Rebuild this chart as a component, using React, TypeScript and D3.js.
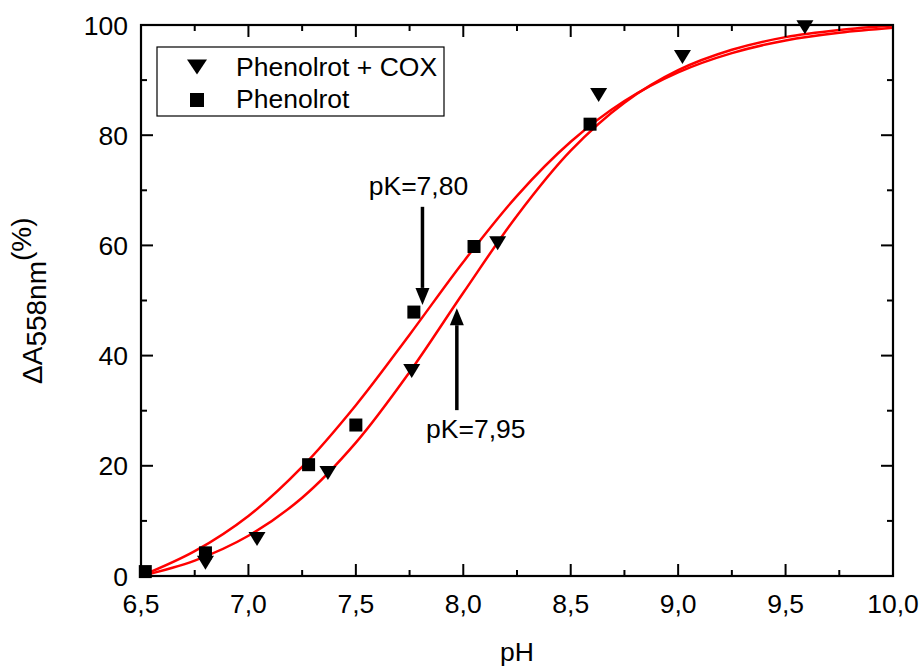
import React from "react";
import * as d3 from "d3";

// ---- data ----
const phenolrotPH = [6.52, 6.80, 7.28, 7.50, 7.77, 8.05, 8.59];
const phenolrotDA = [0.8, 4.2, 20.2, 27.4, 47.9, 59.8, 82.0];

const coxPH = [6.80, 7.04, 7.37, 7.76, 8.16, 8.63, 9.02, 9.59];
const coxDA = [2.4, 6.7, 18.7, 37.2, 60.4, 87.3, 94.2, 99.6];

// fitted sigmoid curves
const fitPH = [6.5, 6.75, 7.0, 7.25, 7.5, 7.75, 8.0, 8.25, 8.5, 8.75, 9.0, 9.25, 9.5, 9.75, 10.0];
const fitPhenolrot = [0.0, 4.5, 10.9, 19.8, 31.0, 43.8, 57.0, 69.0, 78.8, 86.2, 91.4, 94.9, 97.2, 98.6, 99.5];
const fitCox = [0.0, 2.8, 7.3, 14.2, 24.2, 37.0, 51.4, 65.4, 77.2, 85.9, 91.8, 95.5, 97.8, 99.1, 99.9];

const xTicks = [6.5, 7.0, 7.5, 8.0, 8.5, 9.0, 9.5, 10.0];
const xMinor = [6.75, 7.25, 7.75, 8.25, 8.75, 9.25, 9.75];
const yTicks = [0, 20, 40, 60, 80, 100];
const yMinor = [10, 30, 50, 70, 90];

const legendLabels = ["Phenolrot + COX", "Phenolrot"];

// annotations: [pH, arrow start value, arrow tip value, label]
const annoPH = [7.81, 7.97];
const annoFrom = [67, 30.1];
const annoTip = [49.2, 48.6];
const annoLabel = ["pK=7,80", "pK=7,95"];

const W = 923;
const H = 666;
const L = 141, R = 893, T = 25, B = 576;
const FONT = "'Liberation Sans', Arial, Helvetica, sans-serif";
const FS = 26.5;

const x = d3.scaleLinear().domain([6.5, 10]).range([L, R]);
const y = d3.scaleLinear().domain([0, 100]).range([B, T]);

const fmt = (v: number) => v.toFixed(1).replace(".", ",");

function triPath(cx: number, cy: number, w = 17, h = 14) {
  return `M${cx - w / 2},${cy - h / 2}L${cx + w / 2},${cy - h / 2}L${cx},${cy + h / 2}Z`;
}

export default function App() {
  const line = d3
    .line<number>()
    .x((_, i) => x(fitPH[i]))
    .y((d) => y(d))
    .curve(d3.curveCatmullRom.alpha(0.5));

  const sq = 13;
  const majorLen = 12;
  const minorLen = 6;

  return (
    <svg
      width={W}
      height={H}
      style={{ position: "absolute", left: 0, top: 0, background: "#fff" }}
      fontFamily={FONT}
    >
      <rect x={0} y={0} width={W} height={H} fill="#fff" />

      {/* fitted curves */}
      <path d={line(fitPhenolrot) || ""} fill="none" stroke="#ff0000" strokeWidth={2.5} />
      <path d={line(fitCox) || ""} fill="none" stroke="#ff0000" strokeWidth={2.5} />

      {/* ticks (inside) */}
      {xTicks.map((t) => (
        <g key={"xt" + t}>
          <line x1={x(t)} x2={x(t)} y1={B} y2={B - majorLen} stroke="#000" strokeWidth={2} />
          <line x1={x(t)} x2={x(t)} y1={T} y2={T + majorLen} stroke="#000" strokeWidth={2} />
        </g>
      ))}
      {xMinor.map((t) => (
        <g key={"xm" + t}>
          <line x1={x(t)} x2={x(t)} y1={B} y2={B - minorLen} stroke="#000" strokeWidth={2} />
          <line x1={x(t)} x2={x(t)} y1={T} y2={T + minorLen} stroke="#000" strokeWidth={2} />
        </g>
      ))}
      {yTicks.map((t) => (
        <g key={"yt" + t}>
          <line x1={L} x2={L + majorLen} y1={y(t)} y2={y(t)} stroke="#000" strokeWidth={2} />
          <line x1={R} x2={R - majorLen} y1={y(t)} y2={y(t)} stroke="#000" strokeWidth={2} />
        </g>
      ))}
      {yMinor.map((t) => (
        <g key={"ym" + t}>
          <line x1={L} x2={L + minorLen} y1={y(t)} y2={y(t)} stroke="#000" strokeWidth={2} />
          <line x1={R} x2={R - minorLen} y1={y(t)} y2={y(t)} stroke="#000" strokeWidth={2} />
        </g>
      ))}

      {/* frame */}
      <rect x={L} y={T} width={R - L} height={B - T} fill="none" stroke="#000" strokeWidth={2.2} />

      {/* tick labels */}
      {xTicks.map((t) => (
        <text key={"xl" + t} x={x(t)} y={613} textAnchor="middle" fontSize={FS} fill="#000">
          {fmt(t)}
        </text>
      ))}
      {yTicks.map((t) => (
        <text key={"yl" + t} x={L - 13} y={y(t) + 9.5} textAnchor="end" fontSize={FS} fill="#000">
          {t}
        </text>
      ))}

      {/* axis titles */}
      <text x={(L + R) / 2} y={661} textAnchor="middle" fontSize={FS} fill="#000">
        pH
      </text>
      <text transform={`translate(42,384) rotate(-90)`} fontSize={28} fill="#000">
        <tspan>ΔA</tspan>
        <tspan dy={3.5}>558nm</tspan>
        <tspan dy={-15}>(%)</tspan>
      </text>

      {/* data markers */}
      {phenolrotPH.map((p, i) => (
        <rect
          key={"s" + i}
          x={x(p) - sq / 2}
          y={y(phenolrotDA[i]) - sq / 2}
          width={sq}
          height={sq}
          fill="#000"
        />
      ))}
      {coxPH.map((p, i) => (
        <path key={"t" + i} d={triPath(x(p), y(coxDA[i]))} fill="#000" />
      ))}

      {/* annotations */}
      {annoPH.map((p, i) => {
        const ax = x(p);
        const y0 = y(annoFrom[i]);
        const y1 = y(annoTip[i]);
        const dir = y1 > y0 ? 1 : -1;
        const headL = 17;
        const headW = 14;
        const base = y1 - dir * headL;
        const labelY = dir === 1 ? y0 - 12 : y0 + 28;
        return (
          <g key={"a" + i}>
            <line x1={ax} x2={ax} y1={y0} y2={base} stroke="#000" strokeWidth={3.5} />
            <path
              d={`M${ax - headW / 2},${base}L${ax + headW / 2},${base}L${ax},${y1}Z`}
              fill="#000"
            />
            <text
              x={dir === 1 ? ax - 4 : ax + 19}
              y={labelY}
              textAnchor="middle"
              fontSize={FS}
              fill="#000"
            >
              {annoLabel[i]}
            </text>
          </g>
        );
      })}

      {/* legend */}
      <rect x={157} y={47} width={287} height={69} fill="#fff" stroke="#000" strokeWidth={1.2} />
      <path d={triPath(197, 67, 20, 15)} fill="#000" />
      <rect x={197 - 7} y={100 - 7} width={14} height={14} fill="#000" />
      <text x={236} y={76} fontSize={FS} fill="#000">
        {legendLabels[0]}
      </text>
      <text x={236} y={108} fontSize={FS} fill="#000">
        {legendLabels[1]}
      </text>
    </svg>
  );
}
